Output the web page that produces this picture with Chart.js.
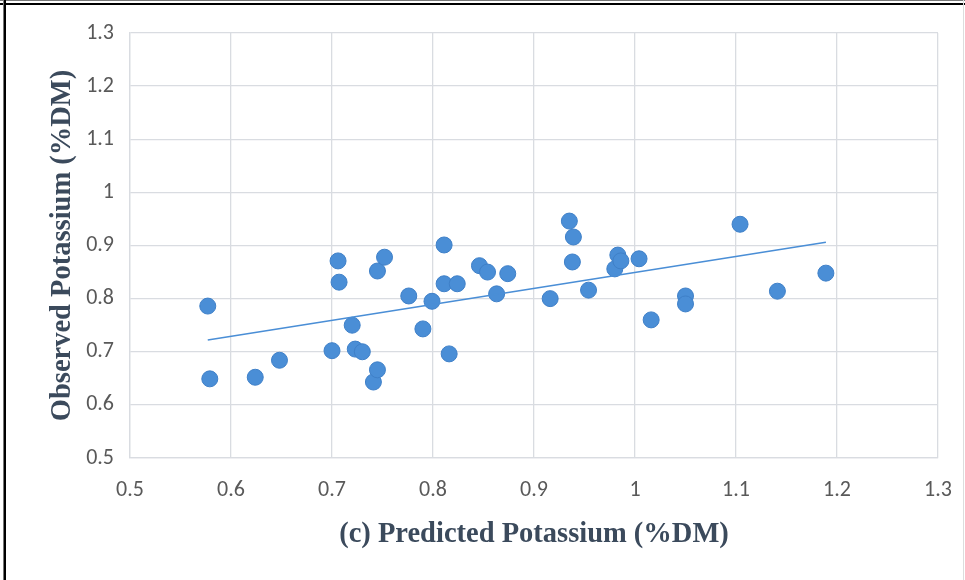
<!DOCTYPE html>
<html>
<head>
<meta charset="utf-8">
<script src="https://cdn.jsdelivr.net/npm/chart.js@4/dist/chart.umd.min.js"></script>
<style>
  html, body { margin: 0; padding: 0; background: #fff; }
  #wrap { position: relative; width: 965px; height: 580px; overflow: hidden; }
  #wrap canvas { position: absolute; left: 0; top: 0; }
  .frame { position: absolute; background: #000; }
</style>
</head>
<body>
<div id="wrap">
  <canvas id="potassium" width="965" height="580"></canvas>
  <div class="frame" style="left:0;top:0;width:965px;height:1px;background:#777;"></div>
  <div class="frame" style="left:0;top:3px;width:965px;height:2px;"></div>
  <div class="frame" style="left:3px;top:0;width:1px;height:580px;background:#777;"></div>
  <div class="frame" style="left:4px;top:0;width:2px;height:580px;"></div>
  <div class="frame" style="left:963px;top:0;width:1px;height:580px;background:#ddd;"></div>
</div>
<script>
// predicted (x) vs observed (y) potassium, %DM
var predicted = [0.577, 0.579, 0.624, 0.648, 0.700, 0.706, 0.707, 0.720, 0.723, 0.730,
                 0.741, 0.745, 0.745, 0.752, 0.776, 0.790, 0.799, 0.811, 0.811, 0.816,
                 0.824, 0.846, 0.854, 0.863, 0.874, 0.916, 0.935, 0.939, 0.938, 0.954,
                 0.980, 0.983, 0.986, 1.004, 1.016, 1.050, 1.050, 1.104, 1.141, 1.189];
var observed  = [0.786, 0.649, 0.652, 0.684, 0.702, 0.871, 0.831, 0.750, 0.705, 0.700,
                 0.643, 0.666, 0.852, 0.878, 0.805, 0.743, 0.795, 0.901, 0.828, 0.696,
                 0.828, 0.862, 0.850, 0.809, 0.847, 0.800, 0.946, 0.916, 0.869, 0.816,
                 0.856, 0.882, 0.871, 0.875, 0.760, 0.805, 0.790, 0.940, 0.814, 0.848];

// linear trendline end points
var trendX = [0.577, 1.189];
var trendY = [0.722, 0.906];

var axisTicks = [0.5, 0.6, 0.7, 0.8, 0.9, 1, 1.1, 1.2, 1.3];

var pts = predicted.map(function (x, i) { return { x: x, y: observed[i] }; });
var trend = trendX.map(function (x, i) { return { x: x, y: trendY[i] }; });

var tickFont = { family: 'Carlito, "Liberation Sans"', size: 22 };
var titleFont = { family: '"Liberation Serif", "DejaVu Serif", serif', size: 28.5, weight: 'bold' };
var gridColor = '#d9dce1';

function fixedTicks(scale) {
    scale.ticks = axisTicks.map(function (v) { return { value: v }; });
}
function plainLabel(v) { return String(Math.round(v * 10) / 10); }

new Chart(document.getElementById('potassium').getContext('2d'), {
    type: 'scatter',
    data: {
        datasets: [{
            label: 'Observed',
            data: pts,
            backgroundColor: '#4a8ed6',
            borderColor: '#3f80c8',
            borderWidth: 1,
            pointRadius: 8,
            order: 2
        }, {
            type: 'line',
            label: 'Trend',
            data: trend,
            borderColor: '#4a8ed6',
            borderWidth: 1.6,
            pointRadius: 0,
            fill: false,
            order: 1
        }]
    },
    options: {
        responsive: false,
        animation: false,
        layout: { padding: { left: 0, right: 27, top: 33, bottom: 0 } },
        plugins: { legend: { display: false }, tooltip: { enabled: false } },
        scales: {
            x: {
                type: 'linear',
                min: 0.5, max: 1.3,
                afterBuildTicks: fixedTicks,
                afterFit: function (s) {
                    s.height = 122;
                    // keep the label overhang from shrinking the plot
                    s.paddingLeft = 0;
                    s.paddingRight = 0;
                },
                grid: { color: gridColor, lineWidth: 1.3, drawTicks: false },
                border: { color: gridColor, width: 1.3 },
                ticks: { color: '#595959', font: tickFont, padding: 19, callback: plainLabel },
                title: {
                    display: true,
                    text: '(c) Predicted Potassium (%DM)',
                    color: '#3b4a5c',
                    font: titleFont,
                    padding: { top: 0, bottom: 28 }
                }
            },
            y: {
                type: 'linear',
                min: 0.5, max: 1.3,
                afterBuildTicks: fixedTicks,
                afterFit: function (s) {
                    s.width = 130;
                    s.paddingTop = 0;
                    s.paddingBottom = 0;
                },
                grid: { color: gridColor, lineWidth: 1.3, drawTicks: false },
                border: { color: gridColor, width: 1.3 },
                ticks: { color: '#595959', font: tickFont, padding: 16, callback: plainLabel },
                title: {
                    display: true,
                    text: 'Observed Potassium (%DM)',
                    color: '#3b4a5c',
                    font: titleFont,
                    padding: { top: 46, bottom: 0 }
                }
            }
        }
    }
});
</script>
</body>
</html>
